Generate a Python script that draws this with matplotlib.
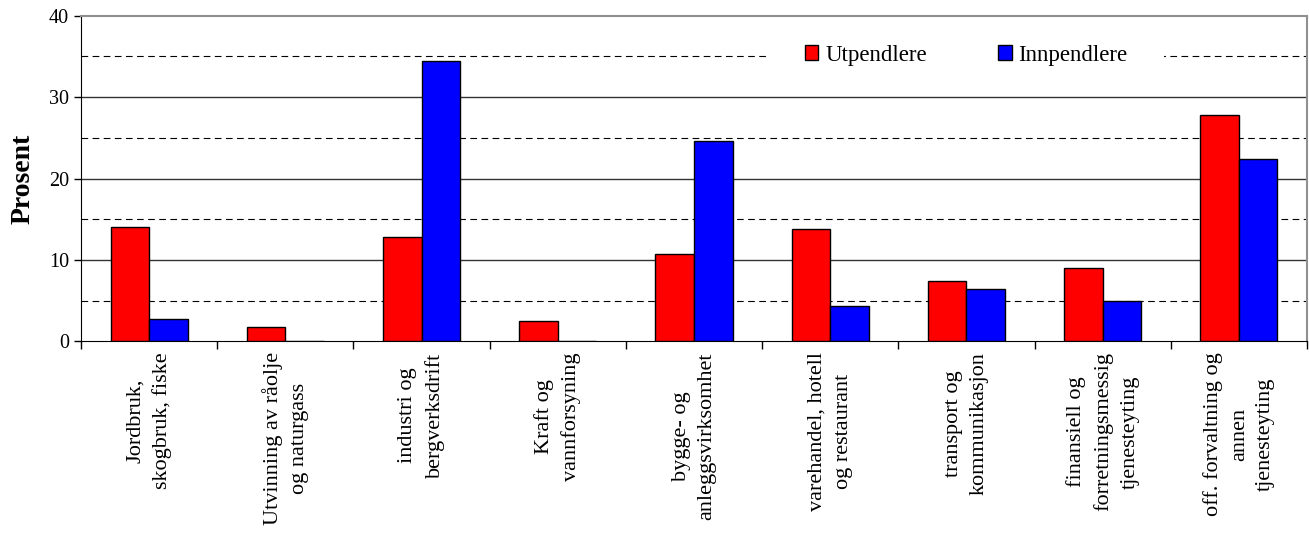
import matplotlib
matplotlib.use("Agg")
import matplotlib.pyplot as plt
import numpy as np
from matplotlib.patches import Patch

plt.rcParams['font.family'] = ['Liberation Serif', 'DejaVu Serif']

categories = ["Jordbruk,\nskogbruk, fiske",
              "Utvinning av råolje\nog naturgass",
              "industri og\nbergverksdrift",
              "Kraft og\nvannforsyning",
              "bygge- og\nanleggsvirksomhet",
              "varehandel, hotell\nog restaurant",
              "transport og\nkommunikasjon",
              "finansiell og\nforretningsmessig\ntjenesteyting",
              "off. forvaltning og\nannen\ntjenesteyting"]
utpendlere = [14.1, 1.7, 12.8, 2.5, 10.7, 13.8, 7.4, 9.0, 27.8]
innpendlere = [2.8, 0.0, 34.4, 0.0, 24.6, 4.3, 6.4, 4.9, 22.4]

fig = plt.figure(figsize=(13.09, 5.35), dpi=100)
ax = fig.add_axes([0.0619, 0.362, 0.9366, 0.6087])

x = np.arange(len(categories))
w = 0.283
ax.bar(x - w / 2, utpendlere, w, color='#ff0000', edgecolor='black', linewidth=1, zorder=3)
ax.bar(x + w / 2, innpendlere, w, color='#0000ff', edgecolor='black', linewidth=1, zorder=3)

# dashed half-step lines and solid grid lines
for y in [5, 15, 25, 35]:
    ax.axhline(y, color='black', linestyle=(0, (6, 4)), linewidth=0.8, zorder=1)
for y in [10, 20, 30]:
    ax.axhline(y, color='#333333', linewidth=1, zorder=2.2)

ax.set_xlim(-0.5, len(categories) - 0.5)
ax.set_ylim(0, 40)
ax.set_yticks([0, 10, 20, 30, 40])
ax.tick_params(axis='y', labelsize=14.5, length=5, width=1, direction='out', pad=3.5)

ax.set_xticks(np.arange(len(categories) + 1) - 0.5)
ax.set_xticklabels([])
ax.tick_params(axis='x', length=6, width=1, direction='out')
for i, lab in enumerate(categories):
    ax.text(i, -1.35, lab, rotation=90, ha='center', va='top', multialignment='center',
            fontsize=16, linespacing=1.5)

ax.spines['left'].set_color('black')
ax.spines['bottom'].set_color('black')
ax.spines['top'].set_color('#909090')
ax.spines['right'].set_color('#909090')
ax.spines['top'].set_linewidth(1.5)
ax.spines['right'].set_linewidth(1.5)

ax.set_ylabel("Prosent", fontsize=20, fontweight='bold', labelpad=10)

handles = [Patch(facecolor='#ff0000', edgecolor='black'), Patch(facecolor='#0000ff', edgecolor='black')]
leg = ax.legend(handles, ['Utpendlere', 'Innpendlere'], ncol=2, loc='center', bbox_to_anchor=(0.722, 0.879),
                fontsize=16.5, frameon=True, facecolor='white', edgecolor='none', framealpha=1,
                handlelength=0.6, handleheight=0.6, handletextpad=0.3, columnspacing=3.1,
                borderpad=1.6, fancybox=False)
leg.set_zorder(2)

fig.savefig("out.png", dpi=100)
